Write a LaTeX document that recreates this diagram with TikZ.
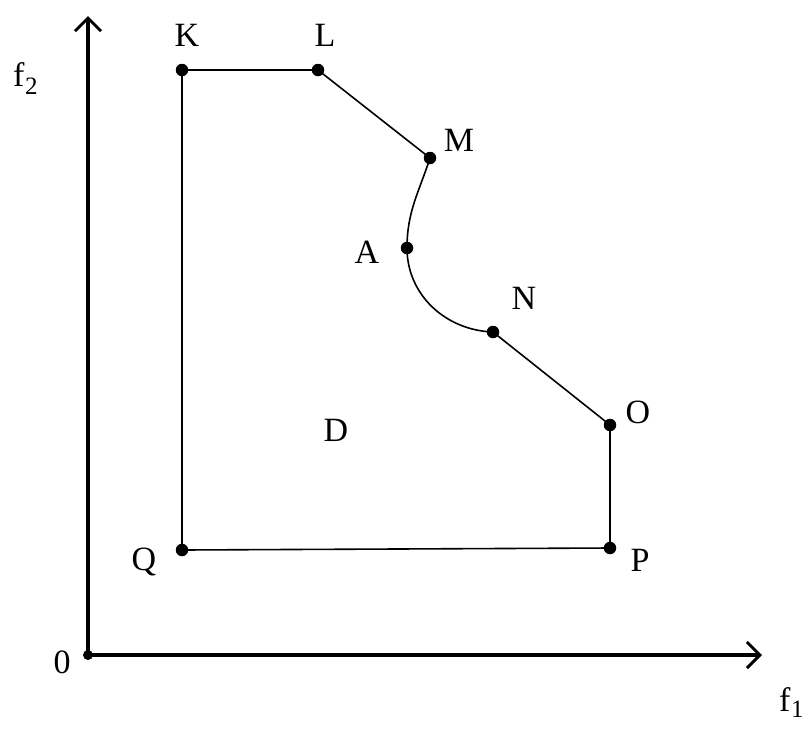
\documentclass[tikz,border=0pt]{standalone}
\usepackage{fontspec}
\setmainfont{Liberation Serif}
\usetikzlibrary{arrows.meta}
\begin{document}
\begin{tikzpicture}[x=1pt,y=-1pt,
  pt/.style={circle,fill=black,inner sep=0pt,minimum size=12.5pt},
  lbl/.style={font=\fontsize{34}{38}\selectfont,inner sep=0pt},
  axis/.style={line width=3.4pt,-{Straight Barb[length=13pt,width=26pt,line width=3pt]}},
  edge/.style={line width=1.6pt}]
\useasboundingbox (0,0) rectangle (811,729);
\fill[white] (0,0) rectangle (811,729);
% origin and axes
\node[circle,fill=black,inner sep=0pt,minimum size=10pt] (O0) at (88,655) {};
\coordinate (ytip) at (88,16);
\coordinate (xtip) at (762,655);
\draw[axis] (O0.center) -- (ytip);
\draw[axis] (O0.center) -- (xtip);
\node[lbl] (l0) at (62,662) {0};
\node[lbl,anchor=base west] (lf2) at (13,86) {f\kern0.5pt\raisebox{-0.25em}{\fontsize{25}{28}\selectfont 2}};
\node[lbl,anchor=base west] (lf1) at (779,711) {f\kern0.5pt\raisebox{-0.2em}{\fontsize{25}{28}\selectfont 1}};
% points
\node[pt] (K) at (182,70) {};
\node[pt] (L) at (318,70) {};
\node[pt] (M) at (430,158) {};
\node[pt] (A) at (407,248) {};
\node[pt] (N) at (493,332) {};
\node[pt] (O) at (610,425) {};
\node[pt] (P) at (610,548) {};
\node[pt] (Q) at (182,550) {};
% edges
\draw[edge] (K.center) -- (L.center) -- (M.center);
\draw[edge] (M.center) to[out=-108,in=90] (A.center) to[out=-90,in=178] (N.center);
\draw[edge] (N.center) -- (O.center) -- (P.center) -- (Q.center) -- (K.center);
% labels
\node[lbl] (lK) at (187,35) {K};
\node[lbl] (lL) at (325,35) {L};
\node[lbl] (lM) at (459,140) {M};
\node[lbl] (lA) at (367,252) {A};
\node[lbl] (lN) at (524,298) {N};
\node[lbl] (lO) at (638,412) {O};
\node[lbl] (lP) at (640,560) {P};
\node[lbl] (lQ) at (144,562) {Q};
\node[lbl] (lD) at (336,430) {D};
\end{tikzpicture}
\end{document}
